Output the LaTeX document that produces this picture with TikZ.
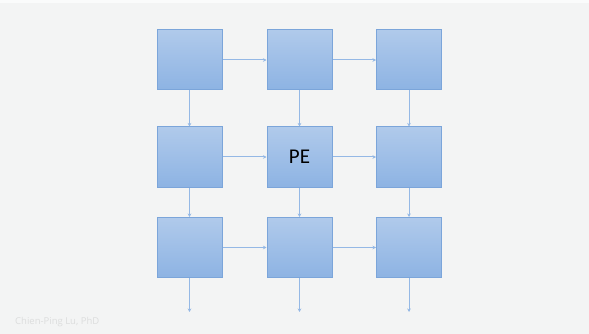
\documentclass[tikz,border=0pt]{standalone}
\usepackage{fontspec}
\setmainfont{Carlito}
\newfontfamily\creditfont{Open Sans}
\usepackage{tikz}
\usetikzlibrary{arrows.meta}

\definecolor{bgcol}{HTML}{F3F4F4}
\definecolor{boxtop}{HTML}{B0CAEB}
\definecolor{boxbot}{HTML}{8DB3E3}
\definecolor{boxline}{HTML}{7BA5DA}
\definecolor{linkcol}{HTML}{94B8E5}
\definecolor{creditcol}{HTML}{DCDDDD}

\tikzset{
  pebox/.style={draw=boxline, line width=1pt, top color=boxtop, bottom color=boxbot,
    minimum width=65pt, minimum height=60pt, inner sep=0pt, font=\fontsize{21}{24}\selectfont},
  link/.style={draw=linkcol, line width=1pt, -{Stealth[length=3.5pt,width=3.5pt]}}
}

\begin{document}
\begin{tikzpicture}[x=1pt, y=-1pt]
             \fill[bgcol] (0,0) rectangle (589,334);
             \fill[white!60!bgcol] (0,0) rectangle (589,3);
             \useasboundingbox (0,0) rectangle (589,334);

             \node[pebox] (p11) at (189.5, 60) {};
             \node[pebox] (p12) at (299.5, 60) {};
             \node[pebox] (p13) at (409, 60) {};

             \node[pebox] (p21) at (189.5, 157) {};
             \node[pebox] (p22) at (299.5, 157) {PE};
             \node[pebox] (p23) at (409, 157) {};

             \node[pebox] (p31) at (189.5, 247.5) {};
             \node[pebox] (p32) at (299.5, 247.5) {};
             \node[pebox] (p33) at (409, 247.5) {};

             \coordinate (out1) at (189.5, 312);
             \coordinate (out2) at (299.5, 312);
             \coordinate (out3) at (409, 312);

             % rows, left to right
             \draw[link] (p11) -- (p12);
             \draw[link] (p12) -- (p13);
             \draw[link] (p21) -- (p22);
             \draw[link] (p22) -- (p23);
             \draw[link] (p31) -- (p32);
             \draw[link] (p32) -- (p33);

             % columns, top to bottom
             \draw[link] (p11) -- (p21);
             \draw[link] (p21) -- (p31);
             \draw[link] (p31.south) -- (out1);
             \draw[link] (p12) -- (p22);
             \draw[link] (p22) -- (p32);
             \draw[link] (p32.south) -- (out2);
             \draw[link] (p13) -- (p23);
             \draw[link] (p23) -- (p33);
             \draw[link] (p33.south) -- (out3);

             \node[anchor=west, text=creditcol, inner sep=0pt, font=\creditfont\fontsize{9.5}{11}\selectfont] (credit) at (15, 322) {Chien-Ping Lu, PhD};
\end{tikzpicture}
\end{document}
